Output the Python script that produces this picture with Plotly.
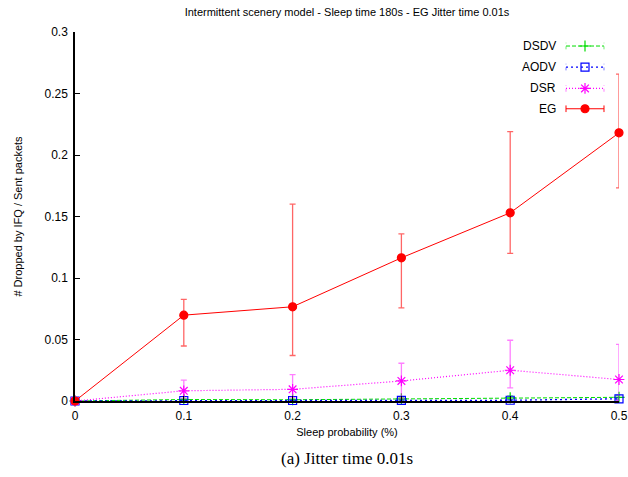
import plotly.graph_objects as go

# ---- data ----
sleep_prob = [0.0, 0.1, 0.2, 0.3, 0.4, 0.5]

dsdv = [0.0, 0.0012, 0.0010, 0.0018, 0.0026, 0.0030]
dsdv_plus = [0.0, 0.0010, 0.0008, 0.0012, 0.0015, 0.0015]
dsdv_minus = [0.0, 0.0008, 0.0007, 0.0010, 0.0012, 0.0012]

aodv = [0.0, 0.0004, 0.0004, 0.0005, 0.0006, 0.0018]
aodv_plus = [0.0, 0.0003, 0.0003, 0.0004, 0.0004, 0.0010]
aodv_minus = [0.0, 0.0003, 0.0003, 0.0004, 0.0004, 0.0010]

dsr = [0.0, 0.0083, 0.0095, 0.0163, 0.0250, 0.0175]
dsr_plus = [0.0, 0.0087, 0.0120, 0.0144, 0.0244, 0.0285]
dsr_minus = [0.0, 0.0060, 0.0065, 0.0140, 0.0143, 0.0170]

eg = [0.0, 0.0698, 0.0766, 0.1164, 0.1530, 0.2180]
eg_plus = [0.0, 0.0129, 0.0834, 0.0194, 0.0660, 0.0477]
eg_minus = [0.0, 0.0251, 0.0396, 0.0407, 0.0330, 0.0447]

x_ticks = [0, 0.1, 0.2, 0.3, 0.4, 0.5]
x_labels = ["0", "0.1", "0.2", "0.3", "0.4", "0.5"]
y_ticks = [0, 0.05, 0.1, 0.15, 0.2, 0.25, 0.3]
y_labels = ["0", "0.05", "0.1", "0.15", "0.2", "0.25", "0.3"]

names = ["DSDV", "AODV", "DSR", "EG"]

FONT = "Liberation Sans, Arial, Helvetica, sans-serif"

styles = {
    "DSDV": dict(color="#00dd00", err="rgba(0,221,0,0.55)", dash="4px,2px",
                 symbol="cross-thin-open", size=8, width=1),
    "AODV": dict(color="#0000ff", err="rgba(0,0,255,0.5)", dash="2px,3px",
                 symbol="square-open", size=8, width=1.3),
    "DSR": dict(color="#ff00ff", err="rgba(255,0,255,0.5)", dash="1px,2px",
                symbol="asterisk-open", size=9, width=1.2),
    "EG": dict(color="#ff0000", err="rgba(255,0,0,0.6)", dash="solid",
               symbol="circle", size=8, width=1),
}

series = {
    "DSDV": (dsdv, dsdv_plus, dsdv_minus),
    "AODV": (aodv, aodv_plus, aodv_minus),
    "DSR": (dsr, dsr_plus, dsr_minus),
    "EG": (eg, eg_plus, eg_minus),
}

fig = go.Figure()

for n in names:
    vals, ep, em = series[n]
    s = styles[n]
    fig.add_trace(go.Scatter(
        x=sleep_prob, y=vals, name=n, mode="lines+markers",
        line=dict(color=s["color"], width=s["width"], dash=s["dash"]),
        marker=dict(symbol=s["symbol"], size=s["size"], color=s["color"],
                    line=dict(color=s["color"], width=1.2)),
        error_y=dict(type="data", symmetric=False, array=ep, arrayminus=em,
                     color=s["err"], thickness=1.3, width=3),
        showlegend=False, cliponaxis=False,
    ))

# ---- custom gnuplot-style legend (overlay axis in 0..1 units) ----
leg_x0, leg_x1, leg_xm = 0.9026, 0.9724, 0.9375
leg_text_x = 0.888
leg_rows = [0.962, 0.905, 0.847, 0.792]
shapes = []
annotations = []
for n, yy in zip(names, leg_rows):
    s = styles[n]
    fig.add_trace(go.Scatter(
        x=[leg_x0, leg_x1], y=[yy, yy], mode="lines", xaxis="x2", yaxis="y2",
        line=dict(color=s["color"], width=s["width"], dash=s["dash"]),
        showlegend=False, hoverinfo="skip"))
    fig.add_trace(go.Scatter(
        x=[leg_xm], y=[yy], mode="markers", xaxis="x2", yaxis="y2",
        marker=dict(symbol=s["symbol"], size=s["size"], color=s["color"],
                    line=dict(color=s["color"], width=1.2)),
        showlegend=False, hoverinfo="skip"))
    for xe in (leg_x0, leg_x1):
        shapes.append(dict(type="line", xref="paper", yref="paper",
                           x0=xe, x1=xe, y0=yy - 0.009, y1=yy + 0.009,
                           line=dict(color=s["err"] if n != "EG" else s["color"], width=1,
                                     dash="solid" if n == "EG" else "dot")))
    annotations.append(dict(text=n, x=leg_text_x, y=yy, xref="paper", yref="paper",
                            xanchor="right", yanchor="middle", showarrow=False,
                            font=dict(family=FONT, size=12, color="black")))

annotations.append(dict(text="(a) Jitter time 0.01s", x=0.5, xref="paper",
                        xanchor="center", y=-(459 - 401.5) / 369.5, yref="paper",
                        yanchor="middle", showarrow=False,
                        font=dict(family="Liberation Serif, Times New Roman, serif",
                                  size=17, color="black")))

fig.update_layout(
    width=628, height=477,
    margin=dict(l=75, r=9, t=32, b=76, autoexpand=False),
    paper_bgcolor="white", plot_bgcolor="white",
    title=dict(text="Intermittent scenery model - Sleep time 180s - EG Jitter time 0.01s",
               x=(75 + 619) / 2 / 628, xanchor="center", y=1 - 12 / 477, yanchor="middle",
               font=dict(family=FONT, size=11, color="black")),
    xaxis=dict(range=[0, 0.5], tickvals=x_ticks, ticktext=x_labels, automargin=False,
               showgrid=False, zeroline=False, showline=True, linecolor="black",
               linewidth=1.5, ticks="inside", ticklen=5, tickcolor="black",
               ticklabelstandoff=3,
               tickfont=dict(family=FONT, size=12, color="black"),
               title=dict(text="Sleep probability (%)", standoff=6,
                          font=dict(family=FONT, size=11, color="black"))),
    yaxis=dict(range=[0, 0.3], tickvals=y_ticks, ticktext=y_labels, automargin=False,
               showgrid=False, zeroline=False, showline=True, linecolor="black",
               linewidth=1.5, ticks="inside", ticklen=5, tickcolor="black",
               ticklabelstandoff=3,
               tickfont=dict(family=FONT, size=12, color="black"),
               title=dict(text="# Dropped by IFQ / Sent packets", standoff=20,
                          font=dict(family=FONT, size=11, color="black"))),
    xaxis2=dict(range=[0, 1], overlaying="x", visible=False),
    yaxis2=dict(range=[0, 1], overlaying="y", visible=False),
    shapes=shapes,
    annotations=annotations,
)

fig.write_html("out.html", config={"displayModeBar": False},
               post_script="document.body.style.margin='0';document.body.style.padding='0';")
